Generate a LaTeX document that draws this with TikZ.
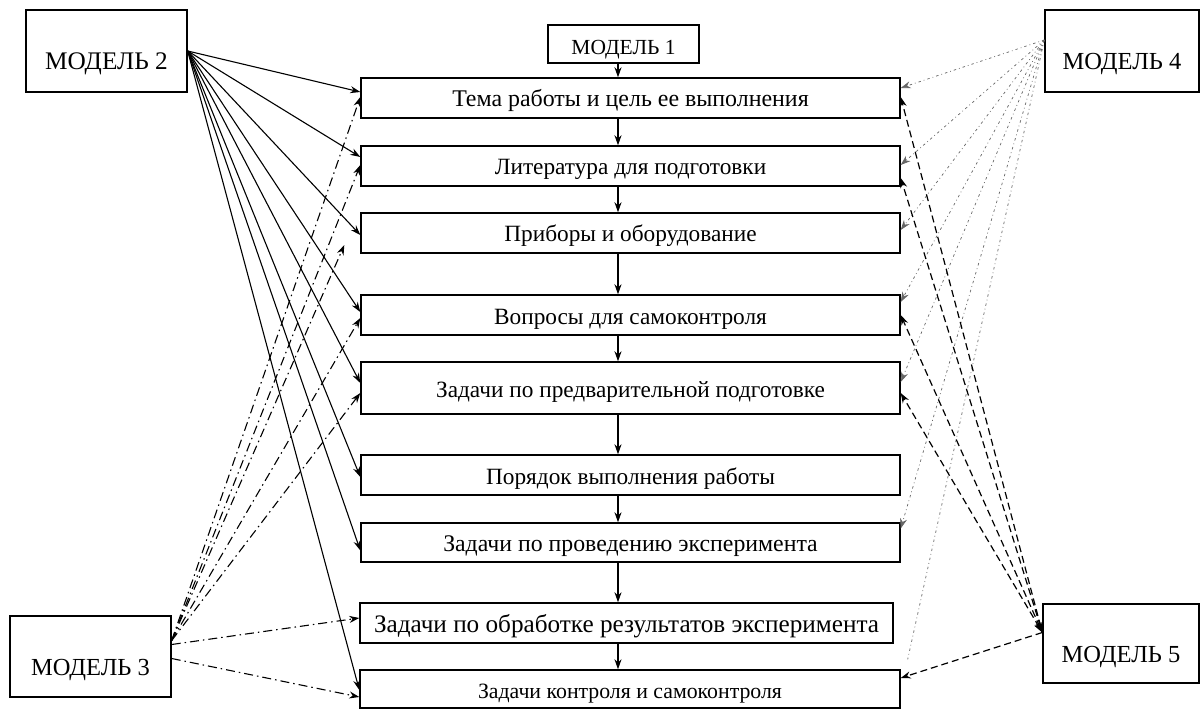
\documentclass[tikz,border=0pt]{standalone}
\usepackage{fontspec}
\setmainfont{Liberation Serif}
\usetikzlibrary{arrows.meta}
\newcommand{\fsz}[1]{\fontsize{#1}{#1}\selectfont}
\begin{document}
\begin{tikzpicture}[x=1pt,y=-1pt,
 box/.style={draw, line width=1.4pt, inner sep=0pt, text height=18pt, text depth=0pt, font=\fsz{23.3}},
 mbox/.style={draw, line width=1.4pt, inner sep=0pt, text height=38pt, text depth=0pt, font=\fsz{24.5}},
 tip/.style={-{Stealth[length=10pt,width=7pt]}},
 flow/.style={tip, line width=1.2pt},
 mtwoline/.style={tip, line width=1.1pt},
 mthreeline/.style={tip, line width=1.1pt, dash pattern=on 9pt off 4pt on 1.5pt off 4pt},
 mfourline/.style={tip, line width=0.7pt, dash pattern=on 2.5pt off 3pt on 0.8pt off 3pt, black!60},
 mfivebase/.style={line width=1.2pt, dash pattern=on 7pt off 4pt},
 mfiveline/.style={mfivebase, {Stealth[length=10pt,width=7pt]}-{Stealth[length=10pt,width=7pt]}},
]
\useasboundingbox (0,0) rectangle (1201,711);

% central column
\node[box, minimum width=151pt, minimum height=38pt, text height=22pt, font=\fsz{21.5}] (m1) at (623.5,44) {МОДЕЛЬ 1};
\node[box, minimum width=539pt, minimum height=40pt, font=\fsz{23.9}] (b1) at (630.5,98) {Тема работы и цель ее выполнения};
\node[box, minimum width=539pt, minimum height=40pt] (b2) at (630.5,166) {Литература для подготовки};
\node[box, minimum width=539pt, minimum height=40pt] (b3) at (630.5,233) {Приборы и оборудование};
\node[box, minimum width=539pt, minimum height=40pt] (b4) at (630.5,315) {Вопросы для самоконтроля};
\node[box, minimum width=539pt, minimum height=52pt] (b5) at (630.5,388) {Задачи по предварительной подготовке};
\node[box, minimum width=539pt, minimum height=40pt] (b6) at (630.5,475) {Порядок выполнения работы};
\node[box, minimum width=539pt, minimum height=39pt, font=\fsz{23.8}] (b7) at (630.5,542.5) {Задачи по проведению эксперимента};
\node[box, minimum width=533pt, minimum height=40pt, font=\fsz{25.2}] (b8) at (626.5,623) {Задачи по обработке результатов эксперимента};
\node[box, minimum width=540pt, minimum height=38pt, font=\fsz{21.8}] (b9) at (630,689) {Задачи контроля и самоконтроля};

% models
\node[mbox, minimum width=161pt, minimum height=82pt, font=\fsz{25.3}] (m2) at (106.5,51) {МОДЕЛЬ 2};
\node[mbox, minimum width=161pt, minimum height=81pt] (m3) at (90.5,656.5) {МОДЕЛЬ 3};
\node[mbox, minimum width=154pt, minimum height=82pt] (m4) at (1122,51) {МОДЕЛЬ 4};
\node[mbox, minimum width=156pt, minimum height=79pt] (m5) at (1121,643.5) {МОДЕЛЬ 5};

% vertical flow
\coordinate (ax) at (618,0);
\draw[flow] (m1.south -| ax) -- (b1.north -| ax);
\draw[flow] (b1.south -| ax) -- (b2.north -| ax);
\draw[flow] (b2.south -| ax) -- (b3.north -| ax);
\draw[flow] (b3.south -| ax) -- (b4.north -| ax);
\draw[flow] (b4.south -| ax) -- (b5.north -| ax);
\draw[flow] (b5.south -| ax) -- (b6.north -| ax);
\draw[flow] (b6.south -| ax) -- (b7.north -| ax);
\draw[flow] (b7.south -| ax) -- (b8.north -| ax);
\draw[flow] (b8.south -| ax) -- (b9.north -| ax);

% model 2 (solid)
\foreach \b/\s in {b1/6,b2/9,b3/-2,b4/3,b5/5,b6/-2,b7/-8,b9/-1}
  \draw[mtwoline] (m2.east) -- ([yshift=\s]\b.west);

% model 3 (dash-dot)
\foreach \b/\s in {b1/1,b2/1,b4/-3,b5/-5}
  \draw[mthreeline] ([yshift=16]m3.east) -- ([yshift=\s]\b.west);
\draw[mthreeline] ([yshift=16]m3.east) -- ([xshift=-16,yshift=-12]b3.west);
\draw[mthreeline] ([yshift=12]m3.east) -- ([yshift=5]b8.west);
\draw[mthreeline] ([yshift=-2]m3.east) -- ([yshift=-8]b9.west);

% model 4 (dotted)
\foreach \b/\s in {b1/10,b2/1,b3/3,b4/13,b5/6,b7/14}
  \draw[mfourline] ([yshift=11]m4.west) -- ([yshift=\s]\b.east);
\draw[mfourline, -] ([yshift=11]m4.west) -- ([xshift=7,yshift=10]b9.north east);

% model 5 (dashed)
\foreach \b/\s in {b1/1,b2/-12,b4/0,b5/-5}
  \draw[mfiveline] ([yshift=11]m5.west) -- ([yshift=\s]\b.east);
\draw[mfivebase, tip] ([yshift=11]m5.west) -- ([yshift=11]b9.east);
\end{tikzpicture}
\end{document}
